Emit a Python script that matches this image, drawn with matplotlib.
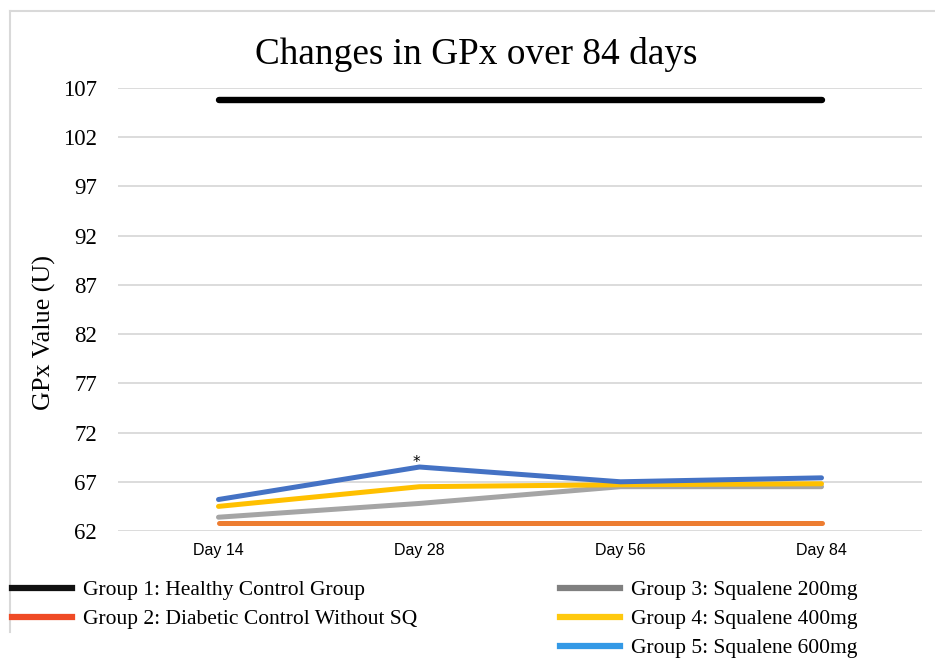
import matplotlib
matplotlib.use("Agg")
import matplotlib.pyplot as plt
from matplotlib.lines import Line2D

plt.close("all")

days = ["Day 14", "Day 28", "Day 56", "Day 84"]
g1_healthy = [105.8, 105.8, 105.8, 105.8]
g2_diabetic = [62.8, 62.8, 62.8, 62.8]
g3_sq200 = [63.4, 64.8, 66.5, 66.5]
g4_sq400 = [64.5, 66.5, 66.7, 66.8]
g5_sq600 = [65.2, 68.5, 67.0, 67.4]
y_ticks = [62, 67, 72, 77, 82, 87, 92, 97, 102, 107]

series = [
    ("Group 1: Healthy Control Group", g1_healthy, "#000000", "#111111", 4.6),
    ("Group 2: Diabetic Control Without SQ", g2_diabetic, "#ED7D31", "#EF4A25", 3.6),
    ("Group 3: Squalene 200mg", g3_sq200, "#A5A5A5", "#808080", 3.6),
    ("Group 4: Squalene 400mg", g4_sq400, "#FFC000", "#FFC90E", 3.6),
    ("Group 5: Squalene 600mg", g5_sq600, "#4472C4", "#3399E6", 3.6),
]

W, H = 935, 660
fig = plt.figure(figsize=(W / 100, H / 100), dpi=100)
ax = fig.add_axes([118 / W, 1 - 531 / H, (922 - 118) / W, (531 - 88) / H])

x = list(range(len(days)))
for label, vals, color, _, lw in series:
    ax.plot(x, vals, color=color, linewidth=lw, solid_capstyle="round", zorder=3)

# significance mark on group 5 at day 28
ax.annotate("*", (1, g5_sq600[1]), xytext=(-2, -2), textcoords="offset points",
            ha="center", va="bottom", fontsize=11, family="DejaVu Sans", zorder=4)

ax.set_xlim(-0.5, len(days) - 0.5)
ax.set_ylim(62, 107)
ax.set_yticks(y_ticks)
ax.set_yticklabels([str(t) for t in y_ticks], family="Liberation Serif", fontsize=16.5)
ax.set_xticks(x)
ax.set_xticklabels(days, family="Liberation Sans", fontsize=11.5)
ax.tick_params(axis="y", length=0, pad=15)
ax.tick_params(axis="x", length=0, pad=9)
ax.grid(axis="y", color="#D9D9D9", linewidth=1.3, zorder=0)
for s in ax.spines.values():
    s.set_visible(False)

# chart frame (left and top edges)
fig.add_artist(Line2D([10 / W, 10 / W], [1 - 11 / H, 1 - 632 / H], color="#D9D9D9", linewidth=1.5))
fig.add_artist(Line2D([10 / W, 1.0], [1 - 11 / H, 1 - 11 / H], color="#D9D9D9", linewidth=1.5))

fig.text(476 / W, 1 - 55 / H, "Changes in GPx over 84 days", ha="center", va="center",
         family="Liberation Serif", fontsize=26.8)
fig.text(44 / W, 1 - 333 / H, "GPx Value (U)", rotation=90, ha="center", va="center",
         family="Liberation Serif", fontsize=18.8)

handles = [Line2D([], [], color=lc, linewidth=4.5) for _, _, _, lc, _ in series]
labels = [s[0] for s in series]
leg_kw = dict(frameon=False, prop={"family": "Liberation Serif", "size": 15.5},
              handlelength=2.8, handletextpad=0.5, labelspacing=0.42,
              borderpad=0, borderaxespad=0, loc="upper left")
fig.legend(handles[:2], labels[:2], bbox_to_anchor=(12 / W, 1 - 580 / H), **leg_kw)
fig.legend(handles[2:], labels[2:], bbox_to_anchor=(560 / W, 1 - 580 / H), **leg_kw)

fig.savefig("out.png", dpi=100)
